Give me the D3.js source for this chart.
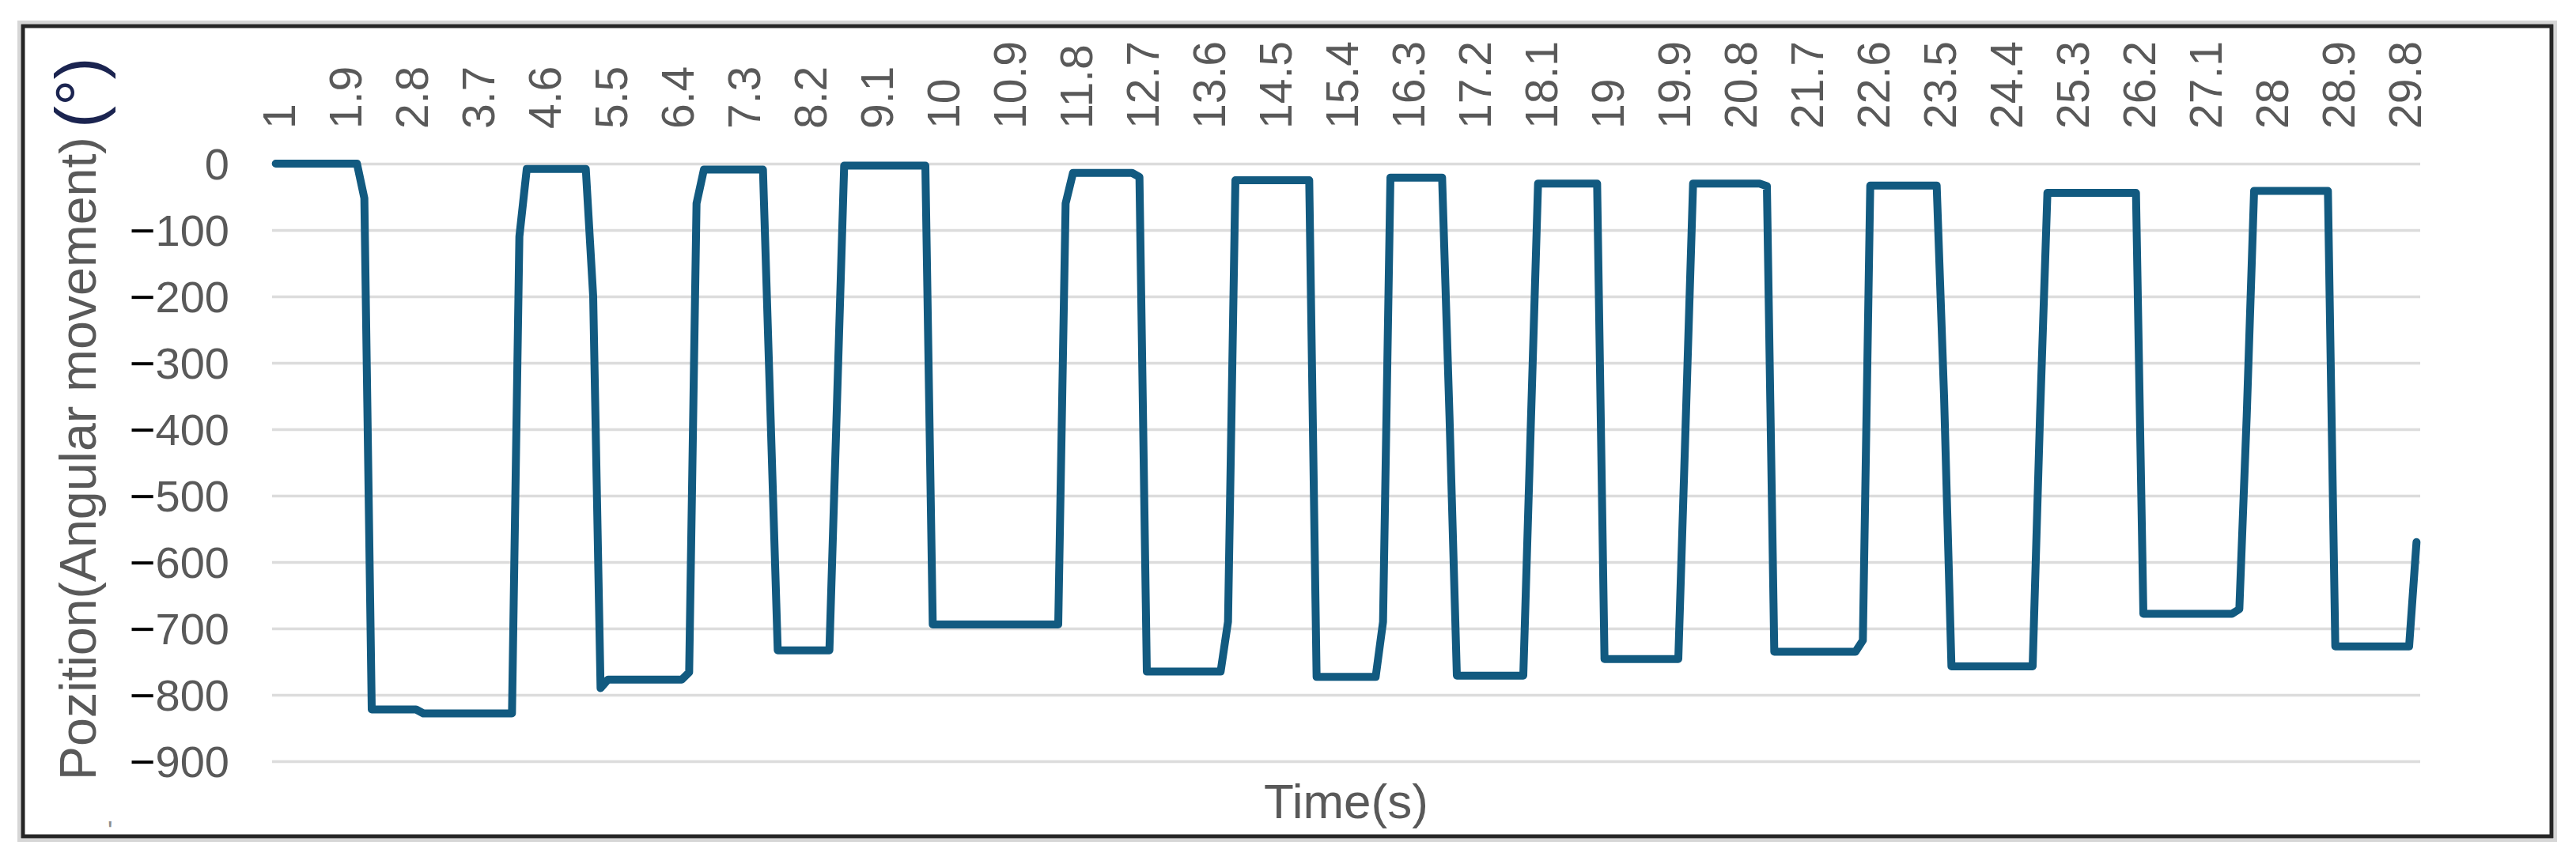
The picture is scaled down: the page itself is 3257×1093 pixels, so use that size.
<!DOCTYPE html>
<html>
<head>
<meta charset="utf-8">
<script src="https://cdn.jsdelivr.net/npm/d3@7/dist/d3.min.js"></script>
<style>
  html, body { margin: 0; padding: 0; background: #ffffff; }
  svg { display: block; }
</style>
</head>
<body>
<svg id="chart" width="3257" height="1093"></svg>
<script>
// ---------------- data ----------------
// time categories 1.0 s ... 30.0 s (0.1 s step)
const categories = d3.range(10, 301).map(v => String(v / 10));

// category labels shown on the (top) time axis
const tickLabels = ["1","1.9","2.8","3.7","4.6","5.5","6.4","7.3","8.2","9.1","10","10.9",
  "11.8","12.7","13.6","14.5","15.4","16.3","17.2","18.1","19","19.9","20.8","21.7",
  "22.6","23.5","24.4","25.3","26.2","27.1","28","28.9","29.8"];

// angular position (deg), one value per category
const position = [
  0,0,0,0,0,0,0,0,0,0,0,0,
  -52,
  -822,-822,-822,-822,-822,-822,-822,
  -828,-828,-828,-828,-828,-828,-828,-828,-828,-828,-828,-828,-828,
  -110,
  -8,-8,-8,-8,-8,-8,-8,-8,-8,
  -200,-790,
  -777,-777,-777,-777,-777,-777,-777,-777,-777,-777,-777,
  -766,-60,
  -9,-9,-9,-9,-9,-9,-9,-9,-9,
  -370,
  -733,-733,-733,-733,-733,-733,-733,-733,
  -370,
  -3,-3,-3,-3,-3,-3,-3,-3,-3,-3,-3,-3,
  -694,-694,-694,-694,-694,-694,-694,-694,-694,-694,-694,-694,-694,-694,-694,-694,-694,-694,
  -60,
  -14,-14,-14,-14,-14,-14,-14,-14,-14,
  -20,
  -765,-765,-765,-765,-765,-765,-765,-765,-765,-765,-765,
  -690,
  -25,-25,-25,-25,-25,-25,-25,-25,-25,-25,-25,
  -773,-773,-773,-773,-773,-773,-773,-773,-773,
  -690,
  -21,-21,-21,-21,-21,-21,-21,-21,
  -380,
  -771,-771,-771,-771,-771,-771,-771,-771,-771,-771,
  -400,
  -30,-30,-30,-30,-30,-30,-30,-30,-30,
  -746,-746,-746,-746,-746,-746,-746,-746,-746,-746,-746,
  -390,
  -30,-30,-30,-30,-30,-30,-30,-30,-30,-30,
  -34,
  -735,-735,-735,-735,-735,-735,-735,-735,-735,-735,-735,-735,
  -718,
  -33,-33,-33,-33,-33,-33,-33,-33,-33,-33,
  -350,
  -757,-757,-757,-757,-757,-757,-757,-757,-757,-757,-757,-757,
  -380,
  -44,-44,-44,-44,-44,-44,-44,-44,-44,-44,-44,-44,-44,
  -678,-678,-678,-678,-678,-678,-678,-678,-678,-678,-678,-678,-678,
  -671,-380,
  -41,-41,-41,-41,-41,-41,-41,-41,-41,-41,-41,
  -727,-727,-727,-727,-727,-727,-727,-727,-727,-727,-727,
  -570
];

// value axis ticks
const yTicks = [0, -100, -200, -300, -400, -500, -600, -700, -800, -900];

const yTitle = "Pozition(Angular movement)";
const yTitleUnit = "(°)";
const xTitle = "Time(s)";

// ---------------- layout ----------------
const svg = d3.select("#chart");
const plot = { left: 344, right: 3060, top: 207, bottom: 963 };
const textGrey = "#595959";
const font = "'Liberation Sans', Arial, sans-serif";

svg.append("rect").attr("width", 3257).attr("height", 1093).attr("fill", "#ffffff");

// frame
svg.append("rect")
  .attr("x", 24).attr("y", 28).attr("width", 3207).attr("height", 1035)
  .attr("fill", "none").attr("stroke", "#d6d6d6").attr("stroke-width", 4);
svg.append("rect")
  .attr("x", 29).attr("y", 33).attr("width", 3197).attr("height", 1025)
  .attr("fill", "none").attr("stroke", "#262626").attr("stroke-width", 5);

const x = d3.scaleBand().domain(categories).range([plot.left, plot.right]).padding(0);
const y = d3.scaleLinear().domain([-900, 0]).range([plot.bottom, plot.top]);

// value axis with gridlines
const yAxis = svg.append("g")
  .attr("transform", `translate(${plot.left},0)`)
  .call(d3.axisLeft(y).tickValues(yTicks)
    .tickSizeInner(-(plot.right - plot.left)).tickSizeOuter(0).tickPadding(54));
yAxis.select(".domain").remove();
yAxis.selectAll(".tick line").attr("stroke", "#dcdcdc").attr("stroke-width", 3.5);
yAxis.selectAll(".tick text")
  .attr("font-family", font).attr("font-size", 56).attr("fill", textGrey)
  .attr("dy", "0.35em")
  .each(function(d) {
    const t = d3.select(this);
    const s = t.text();
    t.text(null);
    if (s.startsWith("−")) {
      t.append("tspan").attr("fill", "#000000").text("−");
      t.append("tspan").text(s.slice(1));
    } else {
      t.append("tspan").text(s);
    }
  });

// category (time) axis, drawn at the top
const xAxis = svg.append("g")
  .attr("transform", `translate(0,${plot.top})`)
  .call(d3.axisTop(x).tickValues(tickLabels).tickSize(0));
xAxis.select(".domain").remove();
xAxis.selectAll(".tick text")
  .attr("font-family", font).attr("font-size", 57).attr("fill", textGrey)
  .attr("x", 0).attr("y", 0).attr("dy", "0.35em")
  .attr("text-anchor", "start")
  .attr("transform", `translate(${x.bandwidth() / 2},${163 - plot.top}) rotate(-90)`);

// line
const line = d3.line()
  .x((d, i) => x(categories[i]) + x.bandwidth() / 2)
  .y(d => y(d));
svg.append("path")
  .datum(position)
  .attr("d", line)
  .attr("fill", "none")
  .attr("stroke", "#125a80")
  .attr("stroke-width", 10)
  .attr("stroke-linejoin", "round")
  .attr("stroke-linecap", "round");

// axis titles
const yt = svg.append("text")
  .attr("transform", "translate(121,987) rotate(-90)")
  .attr("font-family", font).attr("font-size", 64.5).attr("fill", textGrey)
  .attr("text-anchor", "start");
yt.append("tspan").text(yTitle);
yt.append("tspan").attr("font-size", 40).text(" ");
yt.append("tspan").attr("fill", "#1b2450").attr("font-size", 84).attr("dy", 8).text(yTitleUnit);

svg.append("text")
  .attr("x", (plot.left + plot.right) / 2).attr("y", 1035)
  .attr("font-family", font).attr("font-size", 62).attr("fill", textGrey)
  .attr("text-anchor", "middle")
  .text(xTitle);

svg.append("text")
  .attr("x", 136).attr("y", 1062)
  .attr("font-family", font).attr("font-size", 34).attr("fill", "#8c8c8c")
  .text("'");
</script>
</body>
</html>
